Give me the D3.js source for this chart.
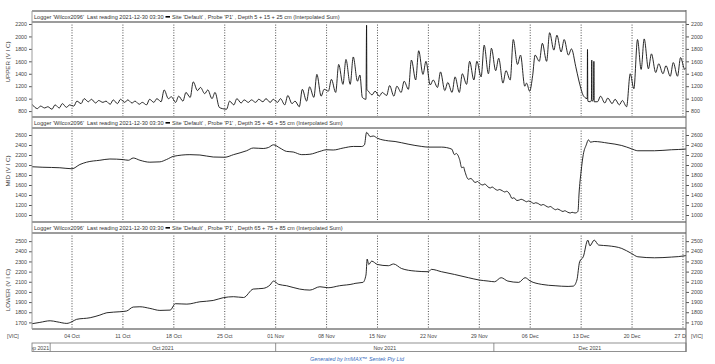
<!DOCTYPE html>
<html>
<head>
<meta charset="utf-8">
<script src="https://cdn.jsdelivr.net/npm/d3@7"></script>
<style>
  body { margin: 0; background: #fff; }
  svg { display: block; font-family: "Liberation Sans", Arial, sans-serif; }
</style>
</head>
<body>
<div id="chart"></div>
<script>
const W = 715, H = 364

// readings, "MM-DD HH" (2021) and value
const upperData = [
  ["09-28 12",910],["09-29 06",840],["09-29 16",880],["09-30 06",850],["09-30 16",870],["10-01 06",830],["10-01 16",900],["10-02 06",850],["10-02 16",920],["10-03 06",860],["10-03 16",900],["10-04 06",880],
  ["10-04 16",960],["10-05 06",920],["10-05 16",1000],["10-06 06",950],["10-06 16",990],["10-07 06",930],["10-07 16",970],["10-08 06",940],["10-08 16",960],["10-09 06",910],["10-09 16",980],["10-10 06",920],["10-10 16",990],["10-11 06",940],
  ["10-11 16",980],["10-12 06",930],["10-12 16",960],["10-13 06",910],["10-13 16",940],["10-14 06",900],["10-14 16",990],["10-15 06",940],["10-15 16",1000],["10-16 06",950],["10-16 16",1140],["10-17 06",1000],["10-17 16",1030],["10-18 06",940],
  ["10-18 16",1040],["10-19 06",960],["10-19 16",1100],["10-20 06",1020],["10-20 16",1270],["10-21 06",1130],["10-21 16",1180],["10-22 06",1080],["10-22 16",1140],["10-23 06",1000],["10-23 16",1100],["10-24 06",860],["10-24 16",840],["10-25 06",830],
  ["10-25 16",960],["10-26 06",900],["10-26 16",1000],["10-27 06",930],["10-27 16",980],["10-28 06",940],["10-28 16",980],["10-29 06",940],["10-29 16",990],["10-30 06",950],["10-30 16",1000],["10-31 06",940],["10-31 16",990],["11-01 06",940],
  ["11-01 16",1000],["11-02 06",900],["11-02 16",1050],["11-03 06",920],["11-03 16",960],["11-04 06",870],["11-04 16",1150],["11-05 06",960],["11-05 16",1190],["11-06 06",1020],["11-06 16",1390],["11-07 06",1040],["11-07 16",1150],["11-08 06",1120],
  ["11-08 16",1310],["11-09 06",1100],["11-09 16",1550],["11-10 06",1230],["11-10 16",1630],["11-11 06",1230],["11-11 16",1670],["11-12 06",1280],["11-12 14",1380],["11-12 22",1020],["11-13 10",990],["11-13 12",2180],["11-13 13",1150],["11-13 18",1120],["11-14 06",1060],["11-14 16",1120],["11-15 06",1040],
  ["11-15 16",1100],["11-16 06",1050],["11-16 16",1210],["11-17 06",1040],["11-17 16",1200],["11-18 06",1100],["11-18 16",1280],["11-19 06",1150],["11-19 16",1620],["11-20 06",1300],["11-20 16",1770],["11-21 06",1390],["11-21 16",1600],["11-22 06",1220],
  ["11-22 16",1300],["11-23 06",1180],["11-23 16",1430],["11-24 06",1130],["11-24 16",1260],["11-25 06",1100],["11-25 16",1350],["11-26 06",1100],["11-26 16",1400],["11-27 06",1230],["11-27 16",1600],["11-28 06",1300],["11-28 16",1600],["11-29 06",1350],
  ["11-29 16",1860],["11-30 06",1400],["11-30 16",1810],["12-01 06",1450],["12-01 16",1650],["12-02 06",1250],["12-02 16",1450],["12-03 06",1300],["12-03 16",1950],["12-04 06",1550],["12-04 16",1700],["12-05 06",1200],["12-05 12",1250],["12-05 22",1120],["12-06 08",1370],
  ["12-06 16",1700],["12-07 06",1600],["12-07 16",1890],["12-08 06",1600],["12-08 16",2060],["12-09 06",1780],["12-09 16",2020],["12-10 06",1750],["12-10 16",1950],["12-11 06",1700],["12-11 16",1800],["12-12 06",1520],["12-12 16",1300],["12-13 00",1150],["12-13 06",1060],["12-13 12",1020],
  ["12-13 20",1000],["12-13 21",1790],["12-13 22",960],["12-14 06",950],["12-14 10",980],["12-14 11",1620],["12-14 12",960],["12-14 17",990],["12-14 18",1600],["12-14 19",950],
  ["12-15 06",950],["12-15 16",1040],["12-16 06",930],["12-16 16",1010],["12-17 06",920],["12-17 16",990],["12-18 06",900],["12-18 16",970],["12-19 06",870],["12-19 18",1400],["12-20 06",1160],["12-20 18",1950],["12-21 06",1470],["12-21 16",1960],
  ["12-22 06",1480],["12-22 16",1720],["12-23 06",1420],["12-23 16",1560],["12-24 06",1400],["12-24 16",1530],["12-25 06",1360],["12-25 16",1580],["12-26 06",1360],["12-26 16",1660],["12-27 06",1470],["12-27 10",1500]
]

const midData = [
  ["09-28 12",1965],["09-30 00",1955],["10-02 08",1945],["10-04 00",1925],["10-05 02",2010],["10-06 00",2056],["10-07 20",2095],["10-09 05",2120],["10-11 01",2108],["10-11 18",2095],
  ["10-12 10",2140],["10-13 08",2095],["10-14 17",2056],["10-16 02",2063],["10-17 00",2110],["10-18 00",2175],["10-20 05",2207],["10-21 14",2200],["10-23 10",2160],["10-25 00",2155],
  ["10-26 05",2207],["10-28 00",2285],["10-28 22",2340],["10-30 07",2330],["10-31 00",2350],["10-31 17",2404],["11-01 14",2340],["11-02 12",2272],["11-03 10",2260],["11-04 14",2207],
  ["11-05 17",2215],["11-07 02",2272],["11-08 00",2305],["11-08 22",2300],["11-10 07",2340],["11-11 17",2371],["11-12 20",2370],["11-13 05",2404],["11-13 12",2653],["11-14 00",2568],
  ["11-14 10",2580],["11-15 00",2535],["11-16 12",2483],["11-17 10",2470],["11-19 05",2417],["11-21 02",2371],["11-22 00",2358],["11-23 19",2358],["11-25 05",2318],["11-25 14",2207],
  ["11-25 20",2230],["11-26 07",2108],["11-26 14",1945],["11-26 20",1960],["11-27 00",1879],["11-27 12",1715],["11-27 20",1730],["11-28 00",1715],["11-28 10",1650],["11-28 18",1670],
  ["11-29 04",1617],["11-29 12",1600],["11-29 18",1620],["11-30 04",1565],["11-30 12",1540],["11-30 18",1560],["12-01 04",1520],["12-01 12",1495],["12-01 18",1510],["12-02 04",1485],
  ["12-02 12",1460],["12-02 18",1475],["12-03 04",1420],["12-03 12",1330],["12-03 18",1345],["12-04 04",1290],["12-04 12",1300],["12-04 18",1315],["12-05 04",1290],["12-05 12",1265],
  ["12-05 18",1280],["12-06 04",1256],["12-06 12",1230],["12-06 18",1245],["12-07 04",1223],["12-07 12",1195],["12-07 18",1210],["12-08 04",1180],["12-08 12",1157],["12-08 18",1170],
  ["12-09 04",1130],["12-09 12",1105],["12-09 18",1120],["12-10 04",1092],["12-10 12",1070],["12-10 18",1085],["12-11 04",1055],["12-11 12",1040],["12-11 18",1055],["12-12 04",1040],
  ["12-12 12",1060],["12-12 14",1092],["12-12 17",1420],["12-13 00",1879],["12-13 07",2207],["12-13 17",2404],["12-14 00",2503],["12-14 07",2456],["12-14 19",2470],["12-16 17",2437],
  ["12-18 14",2390],["12-19 22",2325],["12-20 19",2285],["12-23 02",2285],["12-25 10",2305],["12-27 07",2318],["12-27 10",2320]
]

const lowerData = [
  ["09-28 12",1687],["09-29 14",1700],["10-01 00",1716],["10-01 22",1706],["10-03 07",1690],["10-04 00",1707],["10-04 15",1730],["10-06 12",1746],["10-07 20",1772],["10-08 19",1795],
  ["10-10 14",1805],["10-11 12",1812],["10-12 10",1851],["10-13 08",1854],["10-14 17",1838],["10-16 02",1818],["10-17 12",1821],["10-18 05",1884],["10-19 19",1880],["10-21 14",1903],
  ["10-23 10",1916],["10-24 19",1943],["10-26 05",1953],["10-27 14",1945],["10-28 22",2028],["10-30 07",2035],["10-31 05",2067],["10-31 17",2107],["11-01 10",2074],["11-02 12",2061],
  ["11-04 07",2028],["11-05 17",2018],["11-07 02",2051],["11-08 05",2041],["11-09 19",2061],["11-11 17",2080],["11-11 22",2084],["11-13 00",2094],["11-13 10",2166],["11-13 14",2323],
  ["11-13 19",2270],["11-14 05",2303],["11-15 00",2270],["11-16 12",2258],["11-17 05",2275],["11-18 07",2231],["11-20 05",2205],["11-22 00",2199],["11-22 10",2222],["11-23 19",2199],
  ["11-25 14",2172],["11-27 12",2140],["11-29 00",2117],["11-30 05",2107],["12-01 02",2100],["12-02 00",2140],["12-02 22",2107],["12-04 10",2094],["12-05 07",2140],["12-06 00",2107],
  ["12-07 14",2074],["12-09 10",2061],["12-11 05",2054],["12-11 22",2057],["12-12 10",2117],["12-12 19",2297],["12-13 07",2346],["12-13 22",2510],["12-14 05",2454],["12-14 19",2510],
  ["12-15 10",2461],["12-16 17",2454],["12-18 14",2428],["12-19 22",2379],["12-20 19",2346],["12-23 02",2336],["12-25 10",2343],["12-27 07",2356],["12-27 10",2358]
]

const upperTicks = [800, 1000, 1200, 1400, 1600, 1800, 2000, 2200]
const midTicks = [1000, 1200, 1400, 1600, 1800, 2000, 2200, 2400, 2600]
const lowerTicks = [1700, 1800, 1900, 2000, 2100, 2200, 2300, 2400, 2500]
const depths = ["5 + 15 + 25", "35 + 45 + 55", "65 + 75 + 85"]
const names = ["UPPER", "MID", "LOWER"]
const months = ["2021-09-01", "2021-10-01", "2021-11-01", "2021-12-01", "2022-01-01"]

const parse = d3.timeParse("%Y-%m-%d %H")
const toPoints = arr => arr.map(([t, v]) => ({ date: parse("2021-" + t), value: v }))

const LEFT = 32, RIGHT = 686
const FRAME = "#9c9c9c"
const FS = 5.3

const x = d3.scaleTime()
    .domain([parse("2021-09-28 12"), parse("2021-12-27 10")])
    .range([LEFT, RIGHT])

const panels = [
    { data: upperData, ticks: upperTicks, domain: [705, 2232], top: 11, bottom: 117, titleY: 62 },
    { data: midData, ticks: midTicks, domain: [860, 2740], top: 117, bottom: 222, titleY: 171 },
    { data: lowerData, ticks: lowerTicks, domain: [1635, 2580], top: 222, bottom: 329, titleY: 290 },
]

const svg = d3.select("#chart").append("svg")
    .attr("width", W)
    .attr("height", H)

svg.append("rect").attr("width", W).attr("height", H).attr("fill", "#fff")

const defs = svg.append("defs")
defs.append("clipPath").attr("id", "clip-x")
    .append("rect").attr("x", LEFT).attr("y", 0).attr("width", RIGHT - LEFT).attr("height", H)

const weeks = d3.timeMonday.range(x.domain()[0], x.domain()[1])

panels.forEach((p, i) => {
    const headTop = p.top, plotTop = p.top + 11, plotBottom = p.bottom
    const y = d3.scaleLinear().domain(p.domain).range([plotBottom, plotTop])
    const g = svg.append("g").attr("class", "panel")

    // header strip
    const head = g.append("g").attr("font-size", 5.6).attr("fill", "#333")
    const hy = headTop + 7.8
    head.append("text").attr("x", 34).attr("y", hy).text("Logger 'Wilcox2096'")
    head.append("text").attr("x", 87).attr("y", hy).text("Last reading 2021-12-30 03:30")
    head.append("rect").attr("x", 165.5).attr("y", hy - 2.8).attr("width", 4.5).attr("height", 1.6).attr("fill", "#000")
    head.append("text").attr("x", 172).attr("y", hy)
        .text(`Site 'Default' , Probe 'P1' , Depth ${depths[i]} cm (Interpolated Sum)`)

    // weekly grid
    g.append("g").selectAll("line").data(weeks).join("line")
        .attr("x1", d => x(d)).attr("x2", d => x(d))
        .attr("y1", plotTop).attr("y2", plotBottom)
        .attr("stroke", "#222").attr("stroke-width", 0.8)
        .attr("stroke-dasharray", "1,1.6")

    // series
    const line = d3.line().curve(d3.curveMonotoneX).x(d => x(d.date)).y(d => y(d.value))
    g.append("path")
        .datum(toPoints(p.data))
        .attr("d", line)
        .attr("fill", "none")
        .attr("stroke", "#111")
        .attr("stroke-width", 0.9)
        .attr("clip-path", "url(#clip-x)")

    // y axes both sides
    const left = g.append("g").attr("transform", `translate(${LEFT},0)`)
        .call(d3.axisLeft(y).tickValues(p.ticks).tickFormat(d3.format("d")).tickSize(3).tickPadding(2))
    const right = g.append("g").attr("transform", `translate(${RIGHT},0)`)
        .call(d3.axisRight(y).tickValues(p.ticks).tickFormat(d3.format("d")).tickSize(3).tickPadding(2))
    ;[left, right].forEach(a => {
        a.select(".domain").remove()
        a.selectAll("line").attr("stroke", "#555")
        a.selectAll("text").attr("font-size", FS).attr("fill", "#444").attr("font-family", "Liberation Sans, Arial, sans-serif")
    })

    g.append("text")
        .attr("transform", `translate(10,${p.titleY}) rotate(-90)`)
        .attr("text-anchor", "middle")
        .attr("font-size", 6.2)
        .attr("fill", "#444")
        .text(`${names[i]} (V I C)`)

    // frame lines
    g.append("line").attr("x1", LEFT).attr("x2", RIGHT).attr("y1", headTop).attr("y2", headTop)
        .attr("stroke", FRAME).attr("stroke-width", 2)
    g.append("line").attr("x1", LEFT).attr("x2", RIGHT).attr("y1", plotTop).attr("y2", plotTop)
        .attr("stroke", FRAME).attr("stroke-width", 2)
    g.append("line").attr("x1", LEFT).attr("x2", LEFT).attr("y1", headTop).attr("y2", plotBottom)
        .attr("stroke", FRAME).attr("stroke-width", 1)
})

// bottom frame, right border
svg.append("line").attr("x1", LEFT).attr("x2", RIGHT).attr("y1", 329).attr("y2", 329)
    .attr("stroke", FRAME).attr("stroke-width", 2)
svg.append("line").attr("x1", RIGHT).attr("x2", RIGHT).attr("y1", 10).attr("y2", 352)
    .attr("stroke", "#666").attr("stroke-width", 1)

// week labels
const xAxis = svg.append("g").attr("clip-path", "url(#clip-x)")
    .attr("font-size", FS).attr("fill", "#444").attr("text-anchor", "middle")
xAxis.selectAll("text").data(weeks).join("text")
    .attr("x", d => x(d)).attr("y", 338)
    .text(d3.timeFormat("%d %b"))

svg.append("text").attr("x", 7).attr("y", 338).attr("font-size", FS).attr("fill", "#444").text("[VIC]")
svg.append("text").attr("x", 691).attr("y", 338).attr("font-size", FS).attr("fill", "#444").text("[VIC]")

// month band
const monthDates = months.map(d => d3.timeParse("%Y-%m-%d")(d))
const band = svg.append("g")
band.append("rect").attr("x", LEFT).attr("y", 343).attr("width", RIGHT - LEFT).attr("height", 8.5)
    .attr("fill", "none").attr("stroke", "#777").attr("stroke-width", 0.8)
const segs = d3.pairs(monthDates).map(([a, b]) => ({
    a, x0: Math.max(LEFT, x(a)), x1: Math.min(RIGHT, x(b))
})).filter(s => s.x1 > s.x0)
segs.forEach((s, k) => {
    defs.append("clipPath").attr("id", "mclip" + k)
        .append("rect").attr("x", s.x0).attr("y", 340).attr("width", s.x1 - s.x0).attr("height", 14)
    if (s.x0 > LEFT) {
        band.append("line").attr("x1", s.x0).attr("x2", s.x0).attr("y1", 343).attr("y2", 351.5)
            .attr("stroke", "#777").attr("stroke-width", 0.8)
    }
    const narrow = s.x1 - s.x0 < 30
    band.append("text")
        .attr("clip-path", `url(#mclip${k})`)
        .attr("x", narrow ? s.x1 - 1 : (s.x0 + s.x1) / 2).attr("y", 349.5)
        .attr("text-anchor", narrow ? "end" : "middle").attr("font-size", FS).attr("fill", "#444")
        .text(d3.timeFormat("%b %Y")(s.a))
})

svg.append("text")
    .attr("x", 357).attr("y", 361)
    .attr("text-anchor", "middle")
    .attr("font-size", 5.4)
    .attr("font-style", "italic")
    .attr("fill", "#3b6fc0")
    .text("Generated by IrriMAX\u2122 Sentek Pty Ltd")
</script>
</body>
</html>
